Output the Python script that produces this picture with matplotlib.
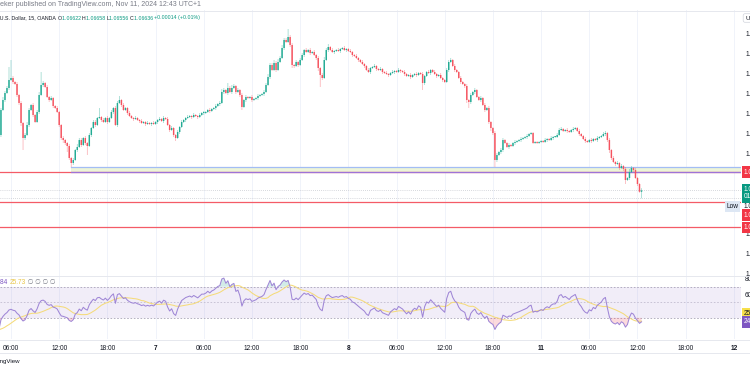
import numpy as np
import pandas as pd
import matplotlib
matplotlib.use("Agg")
import matplotlib.pyplot as plt
from matplotlib.transforms import blended_transform_factory
from matplotlib.lines import Line2D
from matplotlib.ticker import FormatStrFormatter
from matplotlib.colors import to_rgba_array

plt.rcParams['font.family'] = ['Liberation Sans', 'DejaVu Sans']

# ---------------- data ----------------
# closes before the visible window (used only for the RSI warm-up)
prelude_closes = [
    1.0931, 1.0934, 1.0929, 1.0932, 1.0936, 1.0933, 1.0930, 1.0934, 1.0931, 1.0927,
    1.0930, 1.0933, 1.0929, 1.0926, 1.0930, 1.0927,
    1.0928, 1.0925, 1.0921, 1.0917, 1.0912, 1.0905, 1.0890, 1.0878, 1.0884, 1.0862,
    1.0845, 1.0851, 1.0830, 1.0812, 1.0820, 1.0798, 1.0781, 1.0776, 1.0752, 1.0760,
    1.0741, 1.0728, 1.0735, 1.0719,
]

closes = [
    1.0744, 1.0754, 1.0761, 1.0766, 1.0774, 1.0776, 1.0772, 1.0770, 1.0759, 1.0751, 1.0731, 1.0716, 1.0719, 1.0729, 1.0744, 1.0749, 1.0739, 1.0732, 1.0742, 1.0759,
    1.0769, 1.0771, 1.0767, 1.0757, 1.0754, 1.0756, 1.0748, 1.0746, 1.0742, 1.0729, 1.0716, 1.0714, 1.0711, 1.0708, 1.0696, 1.0691, 1.0694, 1.0704, 1.0707, 1.0714,
    1.0709, 1.0716, 1.0711, 1.0708, 1.0719, 1.0726, 1.0732, 1.0729, 1.0736, 1.0737, 1.0734, 1.0732, 1.0736, 1.0732, 1.0736, 1.0742, 1.0746, 1.0729, 1.0751, 1.0754,
    1.0749, 1.0744, 1.0746, 1.0741, 1.0738, 1.0736, 1.0735, 1.0736, 1.0734, 1.0733, 1.0731, 1.0732, 1.0730, 1.0731, 1.0730, 1.0731, 1.0730, 1.0732, 1.0734, 1.0735,
    1.0733, 1.0736, 1.0735, 1.0729, 1.0724, 1.0726, 1.0719, 1.0716, 1.0722, 1.0727, 1.0732, 1.0734, 1.0736, 1.0737, 1.0738, 1.0737, 1.0739, 1.0738, 1.0737, 1.0739,
    1.0741, 1.0741, 1.0742, 1.0744, 1.0743, 1.0745, 1.0746, 1.0748, 1.0750, 1.0751, 1.0762, 1.0764, 1.0761, 1.0766, 1.0762, 1.0766, 1.0768, 1.0762, 1.0764, 1.0759,
    1.0747, 1.0754, 1.0757, 1.0756, 1.0757, 1.0754, 1.0755, 1.0756, 1.0758, 1.0759, 1.0760, 1.0762, 1.0769, 1.0777, 1.0789, 1.0784, 1.0791, 1.0784, 1.0792, 1.0796,
    1.0806, 1.0814, 1.0812, 1.0817, 1.0809, 1.0789, 1.0788, 1.0792, 1.0789, 1.0794, 1.0799, 1.0804, 1.0802, 1.0804, 1.0801, 1.0802, 1.0799, 1.0796, 1.0786, 1.0779,
    1.0776, 1.0794, 1.0804, 1.0807, 1.0804, 1.0802, 1.0803, 1.0804, 1.0803, 1.0805, 1.0806, 1.0804, 1.0805, 1.0803, 1.0802, 1.0799, 1.0798, 1.0796, 1.0794, 1.0792,
    1.0790, 1.0788, 1.0784, 1.0782, 1.0786, 1.0787, 1.0788, 1.0785, 1.0784, 1.0785, 1.0782, 1.0781, 1.0780, 1.0779, 1.0781, 1.0782, 1.0783, 1.0782, 1.0784, 1.0783,
    1.0782, 1.0780, 1.0778, 1.0779, 1.0777, 1.0779, 1.0780, 1.0779, 1.0781, 1.0780, 1.0771, 1.0778, 1.0782, 1.0781, 1.0784, 1.0782, 1.0780, 1.0778, 1.0779, 1.0776,
    1.0774, 1.0772, 1.0784, 1.0792, 1.0794, 1.0788, 1.0784, 1.0782, 1.0776, 1.0772, 1.0770, 1.0768, 1.0754, 1.0752, 1.0759, 1.0762, 1.0764, 1.0757, 1.0754, 1.0756,
    1.0749, 1.0744, 1.0746, 1.0732, 1.0726, 1.0721, 1.0694, 1.0699, 1.0702, 1.0704, 1.0714, 1.0711, 1.0707, 1.0709, 1.0708, 1.0711, 1.0712, 1.0713, 1.0714, 1.0715,
    1.0716, 1.0717, 1.0718, 1.0720, 1.0721, 1.0711, 1.0712, 1.0711, 1.0712, 1.0713, 1.0712, 1.0714, 1.0715, 1.0714, 1.0716, 1.0717, 1.0717, 1.0719, 1.0724, 1.0725,
    1.0723, 1.0724, 1.0723, 1.0722, 1.0724, 1.0725, 1.0726, 1.0723, 1.0720, 1.0718, 1.0715, 1.0713, 1.0712, 1.0714, 1.0713, 1.0715, 1.0714, 1.0716, 1.0717, 1.0718,
    1.0720, 1.0721, 1.0714, 1.0704, 1.0696, 1.0692, 1.0690, 1.0691, 1.0686, 1.0688, 1.0685, 1.0674, 1.0676, 1.0682, 1.0686, 1.0684, 1.0676, 1.0670, 1.06622, 1.06636,
]

# wick extension beyond the candle body, in pips
wick_up = [
    2, 3, 2, 2, 13, 18, 2, 1, 2, 1, 2, 1, 2, 3, 2, 1, 2, 1, 2, 3,
    13, 2, 1, 2, 1, 2, 1, 1, 2, 1, 1, 2, 1, 1, 2, 1, 2, 1, 3, 2,
    2, 1, 2, 1, 2, 1, 2, 2, 1, 9, 1, 2, 1, 2, 1, 2, 1, 2, 2, 4,
    1, 2, 1, 1, 2, 1, 1, 2, 1, 1, 2, 1, 1, 2, 1, 1, 2, 1, 1, 2,
    1, 2, 1, 2, 1, 2, 1, 1, 2, 1, 2, 1, 1, 2, 1, 1, 2, 1, 1, 2,
    1, 2, 1, 1, 2, 1, 1, 2, 1, 2, 3, 2, 1, 5, 2, 3, 2, 1, 2, 1,
    2, 1, 2, 1, 1, 2, 1, 1, 2, 1, 1, 2, 2, 3, 2, 2, 3, 2, 3, 2,
    3, 2, 2, 8, 2, 2, 1, 2, 1, 2, 2, 1, 2, 1, 2, 1, 2, 1, 2, 1,
    2, 3, 2, 3, 1, 2, 1, 1, 2, 1, 1, 2, 1, 1, 2, 1, 1, 2, 1, 1,
    2, 1, 1, 2, 1, 1, 2, 1, 1, 2, 1, 1, 2, 1, 1, 2, 1, 1, 2, 1,
    1, 2, 1, 1, 2, 1, 1, 2, 1, 1, 2, 1, 1, 2, 1, 1, 2, 1, 1, 2,
    1, 1, 2, 2, 2, 1, 2, 1, 1, 2, 1, 1, 2, 1, 2, 1, 2, 1, 1, 2,
    1, 2, 1, 2, 1, 1, 2, 2, 1, 2, 2, 1, 1, 2, 1, 1, 2, 1, 1, 2,
    1, 1, 2, 1, 1, 1, 1, 1, 1, 1, 1, 2, 1, 1, 2, 1, 1, 2, 2, 2,
    1, 1, 2, 1, 1, 2, 1, 1, 2, 1, 1, 2, 1, 1, 2, 1, 1, 2, 1, 1,
    2, 2, 1, 2, 1, 2, 1, 2, 1, 2, 1, 2, 1, 3, 2, 1, 2, 1, 1, 2.2,
]
wick_dn = [
    2, 1, 2, 1, 2, 1, 2, 1, 2, 2, 3, 12, 2, 1, 2, 1, 2, 1, 1, 2,
    1, 2, 1, 1, 2, 1, 2, 1, 1, 2, 2, 3, 2, 6, 2, 4, 2, 1, 2, 1,
    2, 1, 2, 9, 1, 2, 1, 2, 1, 1, 2, 1, 1, 2, 1, 1, 2, 1, 2, 1,
    2, 1, 1, 2, 1, 1, 2, 1, 1, 2, 1, 1, 2, 1, 1, 2, 1, 1, 2, 1,
    1, 2, 1, 1, 2, 1, 2, 3, 1, 2, 1, 1, 2, 1, 1, 2, 1, 1, 2, 1,
    1, 2, 1, 1, 2, 1, 1, 2, 1, 2, 1, 2, 1, 2, 1, 2, 1, 2, 1, 2,
    3, 1, 2, 1, 1, 2, 1, 1, 2, 1, 1, 2, 1, 1, 2, 1, 1, 2, 1, 1,
    1, 2, 1, 1, 2, 3, 2, 1, 2, 1, 1, 2, 1, 1, 2, 1, 1, 2, 3, 12,
    2, 1, 1, 2, 1, 1, 2, 1, 1, 2, 1, 1, 2, 1, 1, 2, 1, 1, 2, 1,
    1, 2, 1, 1, 2, 1, 1, 2, 1, 1, 2, 1, 1, 2, 1, 1, 2, 1, 1, 2,
    1, 2, 1, 1, 2, 1, 1, 2, 1, 1, 7, 2, 1, 1, 2, 1, 1, 2, 1, 1,
    2, 1, 1, 2, 1, 1, 2, 1, 1, 2, 1, 2, 3, 6, 2, 1, 2, 1, 1, 2,
    1, 2, 1, 2, 3, 2, 7, 2, 1, 2, 2, 1, 1, 2, 1, 1, 2, 1, 1, 2,
    1, 1, 2, 1, 1, 1, 1, 1, 1, 1, 1, 1, 2, 1, 1, 2, 1, 1, 1, 1,
    1, 1, 2, 1, 1, 2, 1, 1, 2, 1, 1, 2, 1, 1, 2, 1, 1, 2, 1, 1,
    1, 2, 2, 3, 2, 1, 2, 1, 2, 1, 2, 4, 1, 2, 1, 2, 1, 2, 1, 6.6,
]

support_level = 1.06825
zone_top, zone_bottom = 1.06870, 1.06825
zone_start = "2024-11-06 13:30"
red_levels = [1.0652, 1.0627]

tick_times = ["2024-11-06 06:00", "2024-11-06 12:00", "2024-11-06 18:00", "2024-11-07 00:00",
              "2024-11-07 06:00", "2024-11-07 12:00", "2024-11-07 18:00", "2024-11-08 00:00",
              "2024-11-08 06:00", "2024-11-08 12:00", "2024-11-08 18:00", "2024-11-11 00:00",
              "2024-11-11 06:00", "2024-11-11 12:00", "2024-11-11 18:00", "2024-11-12 00:00"]
tick_labels = ["06:00", "12:00", "18:00", "7", "06:00", "12:00", "18:00", "8",
               "06:00", "12:00", "18:00", "11", "06:00", "12:00", "18:00", "12"]
price_ticks = [1.0580, 1.0600, 1.0620, 1.0640, 1.0660, 1.0680, 1.0700, 1.0720,
               1.0740, 1.0760, 1.0780, 1.0800, 1.0820]
rsi_ticks = [20, 40, 60, 80]

# ---------------- derived series ----------------
times = list(pd.date_range("2024-11-05 18:45", "2024-11-08 22:45", freq="15min")) + \
        list(pd.date_range("2024-11-10 23:00", "2024-11-11 12:30", freq="15min"))
npre = len(prelude_closes)
all_closes = np.array(prelude_closes + closes)
xs_all = np.arange(len(all_closes)) - npre

c = np.array(closes)
o = np.array([prelude_closes[-1]] + closes[:-1])
hi = np.maximum(o, c) + np.array(wick_up) / 10000
lo = np.minimum(o, c) - np.array(wick_dn) / 10000
xv = np.arange(len(c))

s = pd.Series(all_closes)
d = s.diff().fillna(0)
ru = d.clip(lower=0).ewm(alpha=1 / 14, adjust=False).mean()
rd = (-d.clip(upper=0)).ewm(alpha=1 / 14, adjust=False).mean()
rsi = (100 - 100 / (1 + ru / rd.replace(0, np.nan))).fillna(50).values
rsi_ma = pd.Series(rsi).rolling(14, min_periods=1).mean().values

def bar_pos(t):
    t = pd.Timestamp(t)
    if t in times:
        return times.index(t) - npre
    return (len(times) - 1 - npre) + (t - times[-1]) / pd.Timedelta("15min")

tick_pos = [bar_pos(t) for t in tick_times]

# ---------------- figure ----------------
W, H = 750, 370
fig = plt.figure(figsize=(7.5, 3.7), dpi=100)
fig.patch.set_facecolor("white")

def fy(py):
    return 1 - py / H

GREEN, RED = "#089981", "#F23645"
CGREEN, CRED = "#22AB94", "#F5535F"
TXT = "#131722"
GRIDC = "#F0F3FA"
FS = 4.7
XL = (-0.478, 368.55)
AXW = 741 / W

ax = fig.add_axes([0, fy(276), AXW, (276 - 10) / H])
ax.set_xlim(*XL)
ax.set_ylim(1.0578, 1.0844)
for sp in ax.spines.values():
    sp.set_visible(False)
ax.set_xticks(tick_pos)
ax.tick_params(axis="x", length=0, labelbottom=False)
ax.grid(True, axis="x", color=GRIDC, lw=0.7)
ax.set_axisbelow(True)
ax.yaxis.tick_right()
ax.set_yticks(price_ticks)
ax.yaxis.set_major_formatter(FormatStrFormatter("%.5f"))
ax.tick_params(axis="y", length=0, pad=2.9, labelsize=FS, labelcolor=TXT)

# levels
ax.axhline(support_level, color="#F45B67", lw=0.9, zorder=2)
zs = bar_pos(zone_start)
ax.fill_between([zs, XL[1]], zone_bottom, zone_top, color="#EDF5D8", zorder=1.5, lw=0)
ax.plot([zs, XL[1]], [zone_top, zone_top], color="#A3BDF4", lw=0.9, zorder=2.2)
ax.plot([zs, XL[1]], [zone_bottom, zone_bottom], color="#9D74D8", lw=0.9, zorder=2.2)
for lv in red_levels:
    ax.axhline(lv, color="#F45B67", lw=0.9, zorder=2)
ax.axhline(c[-1], color="#B2B5BE", lw=0.5, ls=(0, (1, 2)), zorder=2)
ax.axhline(lo[-1], color="#B2B5BE", lw=0.5, ls=(0, (1, 2)), zorder=2)

# candles (wicks + bodies drawn as line collections, no pixel snapping)
up = c >= o
cols = to_rgba_array([CGREEN if u else CRED for u in up])
wick_cols = cols.copy()
wick_cols[:, 3] = 0.5
body_lo = np.minimum(o, c)
body_hi = np.maximum(np.maximum(o, c), body_lo + 0.0001)
ax.vlines(xv, lo, hi, colors=wick_cols, lw=0.5, zorder=3, snap=False)
ax.vlines(xv, body_lo, body_hi, colors=cols, lw=1.05, zorder=4, snap=False,
          capstyle="butt")

tr = blended_transform_factory(ax.transAxes, ax.transData)

def tag(axis, trans, y, text, fc, tc, dy_px=0.0, x_px=744.0, ec="none"):
    axis.annotate(text, xy=(x_px / 741, y), xycoords=trans, xytext=(0, dy_px * 0.72),
                  textcoords="offset points", ha="left", va="center", fontsize=FS, color=tc,
                  linespacing=1.0,
                  bbox=dict(boxstyle="square,pad=0.35", fc=fc, ec=ec, lw=0.5),
                  annotation_clip=False, zorder=20)

tag(ax, tr, support_level, f"{support_level:.5f}", RED, "white", dy_px=-0.5)
tag(ax, tr, c[-1], f"{c[-1]:.5f}\n01:17", GREEN, "white", dy_px=-3.0)
ax.annotate(f"{lo[-1]:.5f}", xy=(744 / 741, lo[-1]), xycoords=tr, xytext=(0, -8.3 * 0.72),
            textcoords="offset points", ha="left", va="center", fontsize=FS, color=TXT,
            annotation_clip=False, zorder=20)
ax.annotate("Low", xy=(726.5 / 741, lo[-1]), xycoords=tr, xytext=(0, -8.3 * 0.72),
            textcoords="offset points", ha="left", va="center", fontsize=FS, color=TXT,
            bbox=dict(boxstyle="square,pad=0.3", fc="#DDE7F4", ec="none"),
            annotation_clip=False, zorder=20)
tag(ax, tr, red_levels[0], f"{red_levels[0]:.5f}", RED, "white", dy_px=-13.2)
tag(ax, tr, red_levels[1], f"{red_levels[1]:.5f}", RED, "white", dy_px=-0.3)

# ---------------- RSI pane ----------------
rx = fig.add_axes([0, fy(339), AXW, (339 - 276) / H])
rx.set_xlim(*XL)
rx.set_ylim(2.8, 83.8)
for sp in rx.spines.values():
    sp.set_visible(False)
rx.set_xticks(tick_pos)
rx.set_xticklabels(tick_labels)
rx.tick_params(axis="x", length=0, pad=4.2, labelsize=FS, labelcolor=TXT)
for lbl in rx.get_xticklabels():
    if ":" not in lbl.get_text():
        lbl.set_fontweight("bold")
rx.grid(True, axis="x", color=GRIDC, lw=0.7)
rx.set_axisbelow(True)
rx.yaxis.tick_right()
rx.set_yticks(rsi_ticks)
rx.tick_params(axis="y", length=0, pad=2.9, labelsize=FS, labelcolor=TXT)

rx.axhspan(30, 70, color="#7E57C2", alpha=0.1, lw=0, zorder=1)
rx.axhline(70, color="#A9A3B8", lw=0.6, ls=(0, (2, 2)), zorder=1.5)
rx.axhline(50, color="#C2BDD0", lw=0.6, ls=(0, (2, 2)), zorder=1.5)
rx.axhline(30, color="#A9A3B8", lw=0.6, ls=(0, (2, 2)), zorder=1.5)
rx.fill_between(xs_all, rsi, 30, where=rsi < 30, interpolate=True, color=RED, alpha=0.18, lw=0, zorder=2)
rx.fill_between(xs_all, rsi, 70, where=rsi > 70, interpolate=True, color=GREEN, alpha=0.18, lw=0, zorder=2)
rx.plot(xs_all, rsi_ma, color="#F5DB7A", lw=0.75, zorder=3)
rx.plot(xs_all, rsi, color="#9F86D6", lw=0.75, zorder=4)

rtr = blended_transform_factory(rx.transAxes, rx.transData)
tag(rx, rtr, rsi_ma[-1], f"{rsi_ma[-1]:.2f}", "#F7E04B", TXT, dy_px=7.8)
tag(rx, rtr, rsi[-1], f"{rsi[-1]:.2f}", "#7E57C2", "white", dy_px=0.0)

# ---------------- frame lines ----------------
for py in (10.5, 276, 339.5, 353):
    fig.add_artist(Line2D([0, 1], [fy(py), fy(py)], color="#E6E8EE", lw=0.7,
                          transform=fig.transFigure))

# ---------------- texts ----------------
renderer = fig.canvas.get_renderer()

def text_width(txt, size=FS):
    t = fig.text(0, 0, txt, fontsize=size)
    w = t.get_window_extent(renderer=renderer).width
    t.remove()
    return w

def seq_text(x, y, parts, size=FS):
    for txt, col in parts:
        t = fig.text(x / W, fy(y), txt, color=col, fontsize=size, va="center", ha="left")
        bb = t.get_window_extent(renderer=renderer)
        x = bb.x1

def fit_size(parts, hidden, target):
    full = "".join(p[0] for p in parts)
    w = text_width(full) - text_width(hidden)
    return FS * target / w

GRAY = "#787B86"
line1 = [("Tradingspeker published on TradingView.com, Nov 11, 2024 12:43 UTC+1", GRAY)]
sz1 = fit_size(line1, "Tradingsp", 197)
seq_text(-text_width("Tradingsp", sz1), 5, line1, size=sz1)

ch = c[-1] - o[-1]
line2 = [("Euro / U.S. Dollar, 15, OANDA ", TXT),
         ("O", TXT), (f"{o[-1]:.5f} ", GREEN),
         ("H", TXT), (f"{hi[-1]:.5f} ", GREEN),
         ("L", TXT), (f"{lo[-1]:.5f} ", GREEN),
         ("C", TXT), (f"{c[-1]:.5f} ", GREEN),
         (f"{ch:+.5f} ({ch / o[-1] * 100:+.2f}%)", GREEN)]
sz2 = fit_size(line2, "Euro / ", 197)
seq_text(-text_width("Euro / ", sz2), 18, line2, size=sz2)

leg = [(f"{rsi[-1]:.2f}", "#7E57C2"), (" ", TXT), (f"{rsi_ma[-1]:.2f}", "#E8C547"),
       (" \u2205 \u2205 \u2205 \u2205", GRAY)]
seq_text(0.7 - text_width(f"{rsi[-1]:.2f}"[:-2]), 283, leg, size=FS)

fig.text(20 / W, fy(362), "TradingView", fontsize=4.4, color=TXT, ha="right", va="center")

# USD button
fig.text(745 / W, fy(18), "USD", fontsize=4.3, color=TXT, ha="left", va="center",
         bbox=dict(boxstyle="round,pad=0.3", fc="white", ec="#D1D4DC", lw=0.5))

fig.savefig("out.png", dpi=100, facecolor="white")
